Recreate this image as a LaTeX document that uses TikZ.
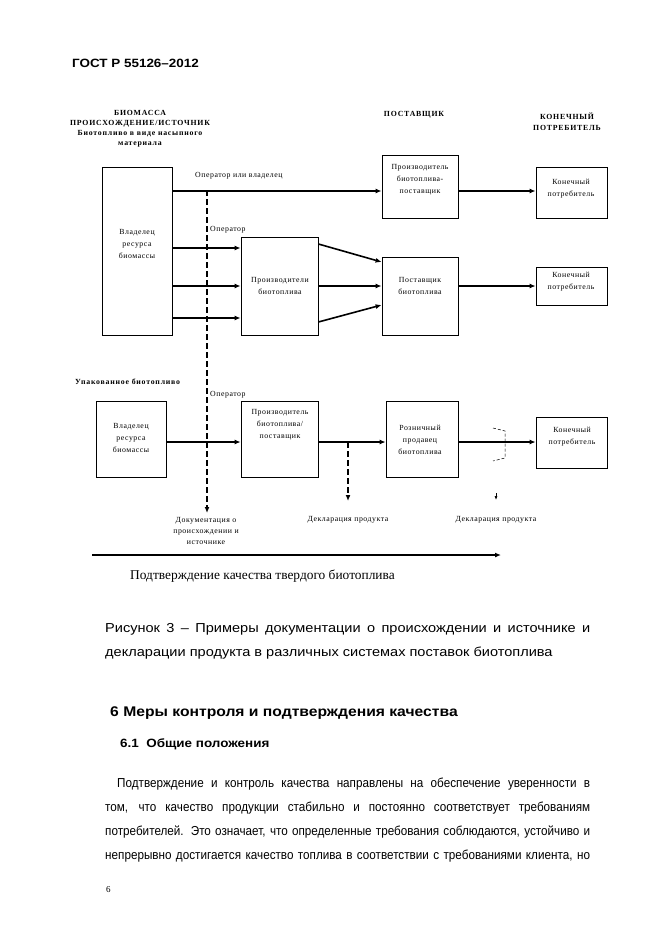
\documentclass[tikz,border=0pt]{standalone}
\usepackage{fontspec}
\setmainfont{Liberation Sans}
\newfontfamily\tms[LetterSpace=7]{Liberation Serif}
\newfontfamily\tmsb[LetterSpace=10]{Liberation Serif}
\newfontfamily\tmsplain{Liberation Serif}
\newfontfamily\capf[FakeStretch=1.12]{Liberation Sans}
\newfontfamily\bodyf[FakeStretch=0.9]{Liberation Sans}
\usetikzlibrary{arrows.meta}
\begin{document}
\begin{tikzpicture}[x=1pt,y=-1pt,
 box/.style={draw, line width=0.8pt, inner sep=0pt},
 con/.style={line width=1.6pt, -{Latex[length=6pt,width=5pt]}},
 dsh/.style={line width=1.6pt, dash pattern=on 6pt off 3pt, -{Latex[length=6pt,width=5pt]}},
 sm/.style={font=\tms\fontsize{7.8}{12}\selectfont, align=center, inner sep=0pt},
 hd/.style={font=\tmsb\bfseries\fontsize{7.8}{10}\selectfont, align=center, inner sep=0pt},
 capl/.style={font=\capf\fontsize{13}{24}\selectfont, anchor=base west, inner sep=0pt},
 bodyl/.style={font=\bodyf\fontsize{13}{24}\selectfont, anchor=base west, inner sep=0pt},
]
\useasboundingbox (0,0) rectangle (661,936);
% header
\node[font=\capf\bfseries\fontsize{12}{14}\selectfont, anchor=base west, inner sep=0pt] (gost) at (72,68) {ГОСТ Р 55126–2012};

% column headers
\node[hd] (h1) at (140,129) {БИОМАССА\\ПРОИСХОЖДЕНИЕ/ИСТОЧНИК\\Биотопливо в виде насыпного\\материала};
\node[hd] (h2) at (414,115) {ПОСТАВЩИК};
\node[hd, font=\tmsb\bfseries\fontsize{7.8}{11}\selectfont] (h3) at (567,122) {КОНЕЧНЫЙ\\ПОТРЕБИТЕЛЬ};

% row 1 & 2 boxes
\node[box, minimum width=70pt, minimum height=168pt] (own1) at (137,251) {};
\node[sm] (town1) at (137,244) {Владелец\\ресурса\\биомассы};
\node[box, minimum width=76pt, minimum height=63pt] (p1) at (420,186.5) {};
\node[sm] (tp1) at (420,180) {Производитель\\биотоплива-\\поставщик};
\node[box, minimum width=71pt, minimum height=51pt] (c1) at (571.5,192.5) {};
\node[sm] (tc1) at (571,189) {Конечный\\потребитель};

\node[box, minimum width=77pt, minimum height=98pt] (prod) at (279.5,286) {};
\node[sm] (tprod) at (280,286) {Производители\\биотоплива};
\node[box, minimum width=76pt, minimum height=78pt] (sup) at (420,296) {};
\node[sm] (tsup) at (420,286) {Поставщик\\биотоплива};
\node[box, minimum width=71pt, minimum height=38pt] (c2) at (571.5,286) {};
\node[sm] (tc2) at (571,282) {Конечный\\потребитель};

% row 1 & 2 connectors
\node[sm, anchor=base west] (lab1) at (195,178) {Оператор или владелец};
\draw[con] (own1.east |- 0,191) -- (p1.west |- 0,191);
\draw[con] (p1.east |- 0,191) -- (c1.west |- 0,191);
\draw[con] (own1.east |- 0,248) -- (prod.west |- 0,248);
\draw[con] (own1.east |- 0,286) -- (prod.west |- 0,286);
\draw[con] (own1.east |- 0,318) -- (prod.west |- 0,318);
\draw[con] (prod.east |- 0,244) -- (sup.west |- 0,262);
\draw[con] (prod.east |- 0,286) -- (sup.west |- 0,286);
\draw[con] (prod.east |- 0,322) -- (sup.west |- 0,305);
\draw[con] (sup.east |- 0,286) -- (c2.west |- 0,286);
\node[sm, anchor=base west] (lab2) at (210,231) {Оператор};

% row 3
\node[hd, anchor=base west] (pack) at (75,384) {Упакованное биотопливо};
\node[sm, anchor=base west] (lab3) at (210,396) {Оператор};
\node[box, minimum width=70pt, minimum height=76pt] (own2) at (131,439) {};
\node[sm] (town2) at (131,438) {Владелец\\ресурса\\биомассы};
\node[box, minimum width=77pt, minimum height=76pt] (pr2) at (279.5,439) {};
\node[sm] (tpr2) at (280,425) {Производитель\\биотоплива/\\поставщик};
\node[box, minimum width=72pt, minimum height=76pt] (ret) at (422,439) {};
\node[sm] (tret) at (420,440) {Розничный\\продавец\\биотоплива};
\node[box, minimum width=71pt, minimum height=51pt] (c3) at (571.5,442.5) {};
\node[sm] (tc3) at (572,437) {Конечный\\потребитель};

\draw[con] (own2.east |- 0,442) -- (pr2.west |- 0,442);
\draw[con] (pr2.east |- 0,442) -- (ret.west |- 0,442);
\draw[con] (ret.east |- 0,442) -- (c3.west |- 0,442);

% dashed verticals
\coordinate (d1a) at (207,190);
\coordinate (d1b) at (207,513);
\draw[dsh] (d1a) -- (d1b);
\coordinate (d2a) at (348,442);
\coordinate (d2b) at (348,501);
\draw[dsh] (d2a) -- (d2b);
\draw[line width=0.5pt, dash pattern=on 3pt off 2pt] (493,428) -- (505,431) -- (505,458) -- (493,461);
\coordinate (d3a) at (496,493);
\coordinate (d3b) at (496,500);
\draw[line width=0.6pt, -{Latex[length=4pt,width=3pt]}] (d3a) -- (d3b);

% bottom labels
\node[sm, font=\tms\fontsize{7.8}{11}\selectfont] (doc) at (206,531) {Документация о\\происхождении и\\источнике};
\node[sm] (decl1) at (348,520) {Декларация продукта};
\node[sm] (decl2) at (496,520) {Декларация продукта};

\coordinate (qa) at (92,555);
\coordinate (qb) at (501,555);
\draw[con] (qa) -- (qb);
\node[font=\tmsplain\fontsize{13.4}{15}\selectfont, anchor=base west, inner sep=0pt] (qtxt) at (130,579) {Подтверждение качества твердого биотоплива};

% caption
\node[capl] (cap1) at (105,632) {\makebox[485pt][s]{Рисунок 3 – Примеры документации о происхождении и источнике и}};
\node[capl] (cap2) at (105,656) {декларации продукта в различных системах поставок биотоплива};

\node[font=\capf\bfseries\fontsize{14}{16}\selectfont, anchor=base west, inner sep=0pt] (sec) at (110,716) {6 Меры контроля и подтверждения качества};
\node[font=\capf\bfseries\fontsize{12}{14}\selectfont, anchor=base west, inner sep=0pt] (subsec) at (120,747) {6.1\ \ Общие положения};

\node[bodyl] (par1) at (117,787) {\makebox[473pt][s]{Подтверждение и контроль качества направлены на обеспечение уверенности в}};
\node[bodyl] (par2) at (105,811) {\makebox[485pt][s]{том, что качество продукции стабильно и постоянно соответствует требованиям}};
\node[bodyl] (par3) at (105,835) {\makebox[485pt][s]{потребителей. Это означает, что определенные требования соблюдаются, устойчиво и}};
\node[bodyl] (par4) at (105,859) {\makebox[485pt][s]{непрерывно достигается качество топлива в соответствии с требованиями клиента, но}};

\node[font=\tmsplain\fontsize{9}{10}\selectfont, anchor=base west, inner sep=0pt] (pg) at (106,892) {6};
\end{tikzpicture}
\end{document}
